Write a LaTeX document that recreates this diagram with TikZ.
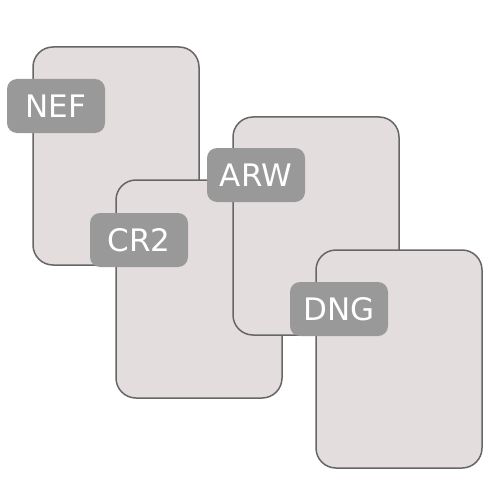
\documentclass[tikz,border=0pt]{standalone}
\usepackage{fontspec}
\setmainfont{DejaVu Sans}
\definecolor{cardfill}{HTML}{E3DEDD}
\definecolor{cardline}{HTML}{666666}
\definecolor{tagfill}{HTML}{999999}
\begin{document}
\begin{tikzpicture}[
  x=1pt, y=-1pt,
  card/.style={draw=cardline, fill=cardfill, line width=1.5pt, rounded corners=20pt, minimum width=166pt, minimum height=218pt, inner sep=0pt},
  tag/.style={fill=tagfill, text=white, rounded corners=10pt, minimum width=98pt, minimum height=54pt, inner sep=0pt, font=\fontsize{31}{31}\selectfont}
]
\useasboundingbox (0,0) rectangle (500,500);

% Cards, back to front
\node[card] (nefcard) at (116,156) {};
\node[tag] (nef) at (56,106) {NEF};

\node[card] (crcard) at (199,289) {};
\node[tag] (cr) at (139,240) {CR2};

\node[card] (arwcard) at (316,226) {};
\node[tag] (arw) at (256,175) {ARW};

\node[card] (dngcard) at (399,359) {};
\node[tag] (dng) at (339,309) {DNG};

\end{tikzpicture}
\end{document}
